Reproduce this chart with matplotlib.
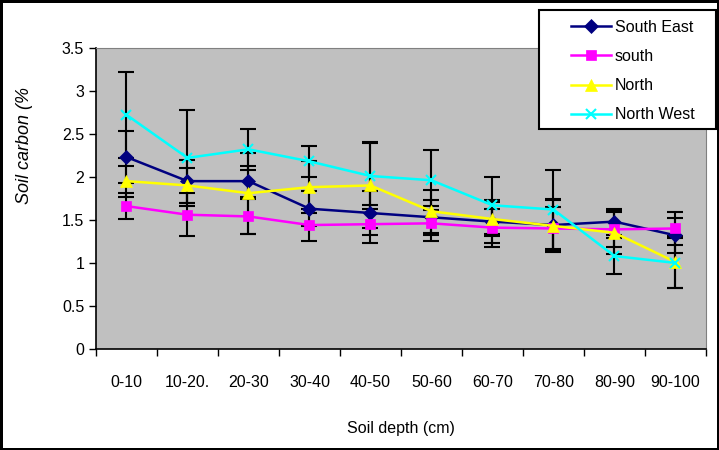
import numpy as np
import matplotlib
matplotlib.use('Agg')
import matplotlib.pyplot as plt
from matplotlib.patches import Rectangle

plt.rcParams['font.family'] = ['Liberation Sans', 'DejaVu Sans']

# ----------------------------------------------------------------
# Data
# ----------------------------------------------------------------
depths = ['0-10', '10-20.', '20-30', '30-40', '40-50',
          '50-60', '60-70', '70-80', '80-90', '90-100']

south_east = [2.23, 1.95, 1.95, 1.63, 1.58, 1.53, 1.48, 1.44, 1.48, 1.32]
south      = [1.66, 1.56, 1.54, 1.44, 1.45, 1.46, 1.41, 1.40, 1.39, 1.40]
north      = [1.95, 1.90, 1.81, 1.88, 1.90, 1.60, 1.51, 1.43, 1.35, 1.01]
north_west = [2.72, 2.22, 2.32, 2.18, 2.01, 1.96, 1.67, 1.62, 1.08, 1.00]

south_east_err = [0.30, 0.25, 0.18, 0.20, 0.25, 0.20, 0.25, 0.30, 0.15, 0.20]
south_err      = [0.15, 0.25, 0.20, 0.19, 0.22, 0.20, 0.22, 0.25, 0.20, 0.19]
north_err      = [0.18, 0.20, 0.47, 0.30, 0.50, 0.25, 0.20, 0.30, 0.25, 0.30]
north_west_err = [0.50, 0.56, 0.24, 0.18, 0.38, 0.35, 0.33, 0.46, 0.21, 0.29]

# ----------------------------------------------------------------
# Plot
# ----------------------------------------------------------------
fig = plt.figure(figsize=(7.19, 4.5), dpi=100)
fig.patch.set_edgecolor('black')
fig.patch.set_linewidth(2.5)

ax = fig.add_axes([0.1335, 0.2244, 0.8484, 0.6696])
ax.set_facecolor('#C0C0C0')

x = np.arange(len(depths))

series = [
    ('South East', south_east, south_east_err, '#000080', 'D', 7),
    ('south', south, south_err, '#FF00FF', 's', 7),
    ('North', north, north_err, '#FFFF00', '^', 9),
    ('North West', north_west, north_west_err, '#00FFFF', 'x', 7),
]

for name, vals, errs, col, mk, ms in series:
    ax.errorbar(x, vals, yerr=errs, fmt='none', ecolor='black',
                elinewidth=1.5, capsize=5.5, capthick=1.5, zorder=2)

for name, vals, errs, col, mk, ms in series:
    ax.plot(x, vals, color=col, marker=mk, markersize=ms,
            linewidth=1.8, markeredgewidth=1.5 if mk == 'x' else 0.5,
            markeredgecolor=col, label=name, zorder=3)

ax.set_xlim(-0.5, len(depths) - 0.5)
ax.set_ylim(0, 3.5)
ax.set_yticks(np.arange(0, 3.51, 0.5))
ax.set_yticklabels(['0', '0.5', '1', '1.5', '2', '2.5', '3', '3.5'])

# Excel style: tick marks between categories, labels at centres
ax.set_xticks(np.arange(-0.5, len(depths), 1.0))
ax.set_xticklabels([])
ax.set_xticks(x, minor=True)
ax.set_xticklabels(depths, minor=True)
ax.tick_params(axis='x', which='minor', length=0, pad=19, labelsize=11.5)
ax.tick_params(axis='x', which='major', length=5, width=1, direction='out')
ax.tick_params(axis='y', length=5, width=1, direction='out', labelsize=11.5)

for s in ['top', 'right']:
    ax.spines[s].set_color('#808080')
for s in ['left', 'bottom']:
    ax.spines[s].set_color('black')
    ax.spines[s].set_linewidth(1.2)

ax.set_xlabel('Soil depth (cm)', fontsize=11.5, labelpad=22)
fig.text(0.034, 1 - 146 / 450, 'Soil carbon (%', rotation=90,
         style='italic', fontsize=13, ha='center', va='center')

# legend box drawn separately (Excel-style inset handles)
fig.patches.append(Rectangle((539 / 719, 1 - 129 / 450),
                             177 / 719, 119 / 450,
                             transform=fig.transFigure,
                             facecolor='white', edgecolor='black',
                             linewidth=1.5, zorder=5))
leg = fig.legend(loc='upper left', bbox_to_anchor=(571 / 719, 1 - 20 / 450),
                 fontsize=11.5, frameon=False,
                 borderpad=0, labelspacing=0.88, handlelength=2.5,
                 handletextpad=0.25, borderaxespad=0)
leg.set_zorder(6)

plt.savefig('out.png', dpi=100)
